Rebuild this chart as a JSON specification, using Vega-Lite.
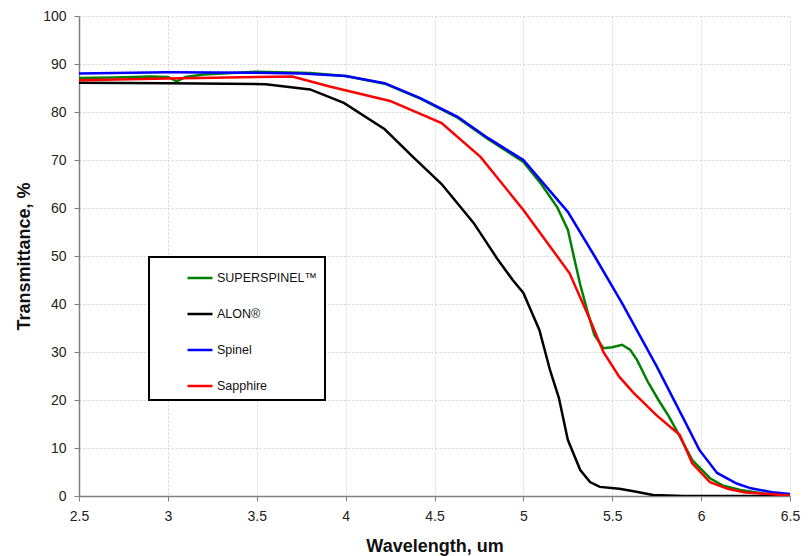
{
  "$schema": "https://vega.github.io/schema/vega-lite/v6.json",
  "width": 711,
  "height": 480,
  "autosize": {"type": "none"},
  "padding": {"left": 79, "top": 16, "right": 20, "bottom": 60},
  "config": {
    "view": {"stroke": null},
    "font": "Liberation Sans",
    "legend": {"strokeWidth": 2}
  },
  "data": {
    "values": [
      {"series": "SUPERSPINEL™", "x": 2.5, "y": 87.1},
      {"series": "SUPERSPINEL™", "x": 2.7, "y": 87.2},
      {"series": "SUPERSPINEL™", "x": 2.9, "y": 87.4},
      {"series": "SUPERSPINEL™", "x": 3.0, "y": 87.3},
      {"series": "SUPERSPINEL™", "x": 3.05, "y": 86.4},
      {"series": "SUPERSPINEL™", "x": 3.1, "y": 87.3},
      {"series": "SUPERSPINEL™", "x": 3.2, "y": 87.8},
      {"series": "SUPERSPINEL™", "x": 3.5, "y": 88.4},
      {"series": "SUPERSPINEL™", "x": 3.8, "y": 88.1},
      {"series": "SUPERSPINEL™", "x": 4.0, "y": 87.5},
      {"series": "SUPERSPINEL™", "x": 4.22, "y": 85.9},
      {"series": "SUPERSPINEL™", "x": 4.42, "y": 82.8},
      {"series": "SUPERSPINEL™", "x": 4.63, "y": 78.8},
      {"series": "SUPERSPINEL™", "x": 4.8, "y": 74.4},
      {"series": "SUPERSPINEL™", "x": 5.0, "y": 69.6},
      {"series": "SUPERSPINEL™", "x": 5.1, "y": 65.0},
      {"series": "SUPERSPINEL™", "x": 5.19, "y": 60.2},
      {"series": "SUPERSPINEL™", "x": 5.25, "y": 55.5},
      {"series": "SUPERSPINEL™", "x": 5.28, "y": 50.5},
      {"series": "SUPERSPINEL™", "x": 5.32, "y": 44.0},
      {"series": "SUPERSPINEL™", "x": 5.36, "y": 38.5},
      {"series": "SUPERSPINEL™", "x": 5.4, "y": 33.5},
      {"series": "SUPERSPINEL™", "x": 5.45, "y": 30.8},
      {"series": "SUPERSPINEL™", "x": 5.5, "y": 31.0},
      {"series": "SUPERSPINEL™", "x": 5.555, "y": 31.5},
      {"series": "SUPERSPINEL™", "x": 5.6, "y": 30.5},
      {"series": "SUPERSPINEL™", "x": 5.64, "y": 28.3},
      {"series": "SUPERSPINEL™", "x": 5.7, "y": 23.8},
      {"series": "SUPERSPINEL™", "x": 5.76, "y": 20.0},
      {"series": "SUPERSPINEL™", "x": 5.82, "y": 16.5},
      {"series": "SUPERSPINEL™", "x": 5.87, "y": 13.1},
      {"series": "SUPERSPINEL™", "x": 5.95, "y": 7.5},
      {"series": "SUPERSPINEL™", "x": 6.05, "y": 3.7},
      {"series": "SUPERSPINEL™", "x": 6.12, "y": 2.2},
      {"series": "SUPERSPINEL™", "x": 6.22, "y": 1.25},
      {"series": "SUPERSPINEL™", "x": 6.35, "y": 0.5},
      {"series": "SUPERSPINEL™", "x": 6.5, "y": 0.2},

      {"series": "ALON®", "x": 2.5, "y": 86.1},
      {"series": "ALON®", "x": 3.0, "y": 86.0},
      {"series": "ALON®", "x": 3.55, "y": 85.8},
      {"series": "ALON®", "x": 3.8, "y": 84.7},
      {"series": "ALON®", "x": 3.99, "y": 81.9},
      {"series": "ALON®", "x": 4.22, "y": 76.4},
      {"series": "ALON®", "x": 4.38, "y": 70.6},
      {"series": "ALON®", "x": 4.54, "y": 65.0},
      {"series": "ALON®", "x": 4.72, "y": 56.9},
      {"series": "ALON®", "x": 4.85, "y": 49.6},
      {"series": "ALON®", "x": 4.94, "y": 45.0},
      {"series": "ALON®", "x": 5.0, "y": 42.3},
      {"series": "ALON®", "x": 5.09, "y": 34.6},
      {"series": "ALON®", "x": 5.15, "y": 26.2},
      {"series": "ALON®", "x": 5.2, "y": 20.4},
      {"series": "ALON®", "x": 5.25, "y": 11.7},
      {"series": "ALON®", "x": 5.32, "y": 5.4},
      {"series": "ALON®", "x": 5.375, "y": 2.9},
      {"series": "ALON®", "x": 5.43, "y": 1.9},
      {"series": "ALON®", "x": 5.54, "y": 1.5},
      {"series": "ALON®", "x": 5.62, "y": 1.0},
      {"series": "ALON®", "x": 5.73, "y": 0.2},
      {"series": "ALON®", "x": 5.9, "y": 0.0},
      {"series": "ALON®", "x": 6.5, "y": 0.0},

      {"series": "Spinel", "x": 2.5, "y": 88.0},
      {"series": "Spinel", "x": 3.0, "y": 88.3},
      {"series": "Spinel", "x": 3.5, "y": 88.2},
      {"series": "Spinel", "x": 3.75, "y": 88.0},
      {"series": "Spinel", "x": 4.0, "y": 87.5},
      {"series": "Spinel", "x": 4.22, "y": 86.0},
      {"series": "Spinel", "x": 4.42, "y": 82.9},
      {"series": "Spinel", "x": 4.63, "y": 79.0},
      {"series": "Spinel", "x": 4.8, "y": 74.6},
      {"series": "Spinel", "x": 5.0, "y": 70.0},
      {"series": "Spinel", "x": 5.25, "y": 59.2},
      {"series": "Spinel", "x": 5.4, "y": 50.0},
      {"series": "Spinel", "x": 5.555, "y": 40.2},
      {"series": "Spinel", "x": 5.75, "y": 27.0},
      {"series": "Spinel", "x": 5.89, "y": 16.9},
      {"series": "Spinel", "x": 5.99, "y": 9.6},
      {"series": "Spinel", "x": 6.09, "y": 4.8},
      {"series": "Spinel", "x": 6.2, "y": 2.6},
      {"series": "Spinel", "x": 6.28, "y": 1.6},
      {"series": "Spinel", "x": 6.4, "y": 0.8},
      {"series": "Spinel", "x": 6.5, "y": 0.4},

      {"series": "Sapphire", "x": 2.5, "y": 86.6},
      {"series": "Sapphire", "x": 3.0, "y": 87.0},
      {"series": "Sapphire", "x": 3.5, "y": 87.3},
      {"series": "Sapphire", "x": 3.7, "y": 87.4},
      {"series": "Sapphire", "x": 3.91, "y": 85.3},
      {"series": "Sapphire", "x": 4.25, "y": 82.3},
      {"series": "Sapphire", "x": 4.54, "y": 77.7},
      {"series": "Sapphire", "x": 4.76, "y": 70.6},
      {"series": "Sapphire", "x": 5.0, "y": 59.6},
      {"series": "Sapphire", "x": 5.26, "y": 46.4},
      {"series": "Sapphire", "x": 5.375, "y": 36.7},
      {"series": "Sapphire", "x": 5.45, "y": 30.0},
      {"series": "Sapphire", "x": 5.54, "y": 24.8},
      {"series": "Sapphire", "x": 5.62, "y": 21.5},
      {"series": "Sapphire", "x": 5.75, "y": 16.8},
      {"series": "Sapphire", "x": 5.88, "y": 12.7},
      {"series": "Sapphire", "x": 5.95, "y": 6.8},
      {"series": "Sapphire", "x": 6.05, "y": 2.9},
      {"series": "Sapphire", "x": 6.15, "y": 1.5},
      {"series": "Sapphire", "x": 6.24, "y": 0.8},
      {"series": "Sapphire", "x": 6.5, "y": 0.1}
    ]
  },
  "mark": {"type": "line", "strokeWidth": 2.5, "clip": true},
  "encoding": {
    "x": {
      "field": "x",
      "type": "quantitative",
      "scale": {"domain": [2.5, 6.5], "nice": false, "zero": false},
      "axis": {
        "values": [2.5, 3, 3.5, 4, 4.5, 5, 5.5, 6, 6.5],
        "format": "~g",
        "title": "Wavelength, um",
        "titleFontSize": 18,
        "titleFontWeight": "bold",
        "titleColor": "#111111",
        "titlePadding": 14,
        "labelFontSize": 14,
        "labelColor": "#222222",
        "labelPadding": 8,
        "labelFlush": false,
        "tickSize": 5,
        "tickColor": "#808080",
        "domainColor": "#808080",
        "domainWidth": 1.5,
        "grid": true,
        "gridColor": "#d4d4d4",
        "gridDash": [2, 2]
      }
    },
    "y": {
      "field": "y",
      "type": "quantitative",
      "scale": {"domain": [0, 100], "nice": false},
      "axis": {
        "values": [0, 10, 20, 30, 40, 50, 60, 70, 80, 90, 100],
        "title": "Transmittance, %",
        "titleFontSize": 18,
        "titleFontWeight": "bold",
        "titleColor": "#111111",
        "titlePadding": 9,
        "labelFontSize": 14,
        "labelColor": "#222222",
        "labelPadding": 8,
        "tickSize": 5,
        "tickColor": "#808080",
        "domainColor": "#808080",
        "domainWidth": 1.5,
        "grid": true,
        "gridColor": "#d4d4d4",
        "gridDash": [2, 2]
      }
    },
    "color": {
      "field": "series",
      "type": "nominal",
      "sort": ["SUPERSPINEL™", "ALON®", "Spinel", "Sapphire"],
      "scale": {
        "domain": ["SUPERSPINEL™", "ALON®", "Spinel", "Sapphire"],
        "range": ["#008000", "#000000", "#0000ff", "#ff0000"]
      },
      "legend": {
        "orient": "none",
        "legendX": 70,
        "legendY": 241,
        "title": null,
        "symbolType": "stroke",
        "symbolSize": 625,
        "symbolStrokeWidth": 2.5,
        "symbolOffset": 30,
        "labelOffset": 3,
        "labelFontSize": 12.5,
        "labelColor": "#111111",
        "rowPadding": 15,
        "padding": 7,
        "strokeColor": "#000000",
        "fillColor": "#ffffff"
      }
    }
  }
}
